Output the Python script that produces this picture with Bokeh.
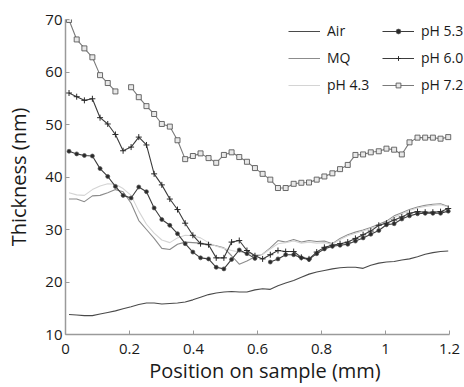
from bokeh.plotting import figure
from bokeh.models import Range1d, FixedTicker, Legend, LegendItem
from bokeh.embed import file_html
from bokeh.resources import INLINE
import numpy as np

nan = float("nan")

# Position on sample (mm)
x_pos = [0.011, 0.035, 0.059, 0.084, 0.108, 0.132, 0.156, 0.180, 0.205, 0.229,
         0.253, 0.277, 0.301, 0.326, 0.350, 0.374, 0.398, 0.422, 0.447, 0.471,
         0.495, 0.519, 0.543, 0.567, 0.592, 0.616, 0.640, 0.664, 0.688, 0.713,
         0.737, 0.761, 0.785, 0.809, 0.834, 0.858, 0.882, 0.906, 0.930, 0.954,
         0.979, 1.003, 1.027, 1.051, 1.075, 1.100, 1.124, 1.148, 1.172, 1.196]

air = [13.8, 13.7, 13.6, 13.6, 13.9, 14.2, 14.5, 14.9, 15.3, 15.7,
       16.0, 16.0, 15.8, 15.9, 16.0, 16.2, 16.6, 17.1, 17.6, 17.9,
       18.1, 18.2, 18.1, 18.1, 18.5, 18.7, 18.6, 19.3, 19.8, 20.3,
       20.9, 21.5, 21.9, 22.2, 22.5, 22.7, 22.8, 22.8, 22.6, 23.2,
       23.6, 23.8, 23.9, 24.2, 24.4, 24.8, 25.3, 25.6, 25.8, 25.9]

mq = [35.8, 35.8, 35.3, 36.4, 36.5, 37.0, 37.6, 37.2, 35.0, 31.7,
      30.0, 28.3, 26.4, 26.2, 27.2, 27.6, 27.5, 27.4, 27.2, 26.9,
      26.5, 25.0, 23.4, 24.0, 24.8, 25.3, 26.5, 27.9, 27.6, 28.1,
      27.6, 27.9, 27.7, 27.8, 27.3, 28.3, 29.0, 29.5, 29.9, 30.4,
      31.0, 31.6, 32.6, 33.2, 33.8, 34.3, 34.6, 34.8, 34.9, 34.4]

ph43 = [37.0, 36.6, 36.5, 37.6, 38.3, 38.7, 38.6, 37.8, 36.5, 33.5,
        31.0, 29.3, 28.0, 27.5, 28.4, 28.9, 28.8, 28.4, 27.5, 26.8,
        26.4, 26.0, 25.7, 25.5, 25.2, 25.3, 26.3, 27.3, 27.5, 27.8,
        27.4, 27.6, 27.4, 27.5, 27.2, 28.1, 28.8, 29.3, 29.7, 30.2,
        30.8, 31.4, 32.3, 33.0, 33.6, 34.1, 34.4, 34.6, 34.7, 34.3]

ph53 = [44.9, 44.4, 44.1, 44.0, 41.6, 40.1, 38.2, 36.5, 36.0, 38.1,
        37.2, 34.1, 31.9, 30.8, 29.2, 27.3, 25.7, 24.6, 24.4, 22.8,
        22.5, 24.3, 26.1, 25.4, 24.5, nan, 23.8, 24.4, 25.2, 25.2,
        24.6, 24.3, 25.4, 26.3, 26.8, 27.0, 27.2, 27.8, 28.4, 29.1,
        29.8, 30.9, 31.1, 32.0, 32.6, 33.0, 33.1, 33.1, 33.1, 33.5]

ph60 = [56.0, 55.3, 54.6, 54.9, 51.3, 50.1, 48.1, 45.0, 45.7, 47.6,
        46.1, 40.6, 38.5, 35.8, 33.8, 31.2, 28.9, 27.3, 27.1, 24.6,
        24.6, 27.6, 27.9, 26.0, 25.0, 24.4, 25.2, 26.0, 25.8, 25.8,
        24.7, 24.4, 25.7, 26.6, 27.0, 27.3, 27.6, 28.3, 29.0, 29.7,
        30.8, 31.2, 31.8, 32.4, 33.1, 33.4, 33.3, 33.3, 33.4, 34.0]

ph72 = [69.9, 66.2, 64.5, 62.8, 59.4, 57.9, 56.3, nan, 57.1, 55.2,
        53.5, 52.0, 50.1, 49.6, 47.0, 43.4, 44.0, 44.5, 43.6, 42.7,
        44.2, 44.7, 43.8, 42.9, 41.7, 40.6, 39.5, 37.9, 37.9, 38.7,
        38.9, 38.95, 39.5, 40.1, 40.7, 41.5, 42.3, 44.2, 44.3, 44.7,
        44.9, 45.4, 45.2, 44.3, 46.6, 47.5, 47.5, 47.5, 47.3, 47.6]

x_ticks = [0, 0.2, 0.4, 0.6, 0.8, 1.0, 1.2]
x_tick_labels = ["0", "0.2", "0.4", "0.6", "0.8", "1", "1.2"]
y_ticks = [10, 20, 30, 40, 50, 60, 70]

FONT = "Open Sans"

# frame runs from x=65 px to the right edge; the axis itself stops at 1.2 mm
p = figure(width=464, height=387, output_backend="svg", toolbar_location=None,
           x_range=Range1d(0, 1.2 * 399 / 384), y_range=Range1d(10, 70),
           min_border_left=65, min_border_right=0, min_border_top=19, min_border_bottom=53)
p.grid.visible = False
p.outline_line_color = None
p.background_fill_color = "white"
p.border_fill_color = "white"

for ax in (p.xaxis[0], p.yaxis[0]):
    ax.axis_line_color = "#9a9a9a"
    ax.axis_line_width = 1.5
    ax.major_tick_line_color = "#9a9a9a"
    ax.major_tick_in = 4
    ax.major_tick_out = 0
    ax.minor_tick_line_color = None
    ax.major_label_text_font = FONT
    ax.major_label_text_font_size = "15px"
    ax.major_label_text_color = "#1a1a1a"
    ax.axis_label_text_font = FONT
    ax.axis_label_text_font_size = "20px"
    ax.axis_label_text_font_style = "normal"
    ax.axis_label_text_color = "#1a1a1a"

p.xaxis[0].bounds = (0, 1.2)
p.xaxis[0].ticker = FixedTicker(ticks=x_ticks)
p.xaxis[0].major_label_overrides = {t: l for t, l in zip(x_ticks, x_tick_labels)}
p.xaxis[0].major_label_standoff = 9
p.xaxis[0].axis_label = "Position on sample (mm)"
p.xaxis[0].axis_label_standoff = 0

p.yaxis[0].ticker = FixedTicker(ticks=y_ticks)
p.yaxis[0].major_label_standoff = 3
p.yaxis[0].axis_label = "Thickness (nm)"
p.yaxis[0].axis_label_standoff = 10

xs = np.array(x_pos)

r_air = p.line(xs, air, line_color="#4a4a4a", line_width=1.1)
r_mq = p.line(xs, mq, line_color="#8c8c8c", line_width=1.1)
r_43 = p.line(xs, ph43, line_color="#d4d4d4", line_width=1.1)

r_53l = p.line(xs, ph53, line_color="#3c3c3c", line_width=1.1)
r_53m = p.scatter(xs, ph53, marker="circle", size=4, fill_color="#2a2a2a",
                  line_color="#555555", line_width=0.7)

r_60l = p.line(xs, ph60, line_color="#3c3c3c", line_width=1.1)
r_60m = p.scatter(xs, ph60, marker="cross", size=6, line_color="#2a2a2a", line_width=1)

r_72l = p.line(xs, ph72, line_color="#7a7a7a", line_width=1.1)
r_72m = p.scatter(xs, ph72, marker="square", size=5, fill_color="#e8e8e8",
                  line_color="#5a5a5a", line_width=0.9)

def make_legend(items, loc):
    lg = Legend(items=items, location=loc, padding=0, margin=0, spacing=8,
                glyph_width=32, glyph_height=12, label_height=12, label_standoff=7,
                label_text_font=FONT, label_text_font_size="14px",
                label_text_color="#1a1a1a",
                border_line_color=None, background_fill_alpha=0)
    p.add_layout(lg, "center")

make_legend([LegendItem(label="Air", renderers=[r_air]),
             LegendItem(label="MQ", renderers=[r_mq]),
             LegendItem(label="pH 4.3", renderers=[r_43])], (223, 240))
make_legend([LegendItem(label="pH 5.3", renderers=[r_53l, r_53m]),
             LegendItem(label="pH 6.0", renderers=[r_60l, r_60m]),
             LegendItem(label="pH 7.2", renderers=[r_72l, r_72m])], (317, 240))

open("out.html", "w").write(file_html(p, INLINE))
